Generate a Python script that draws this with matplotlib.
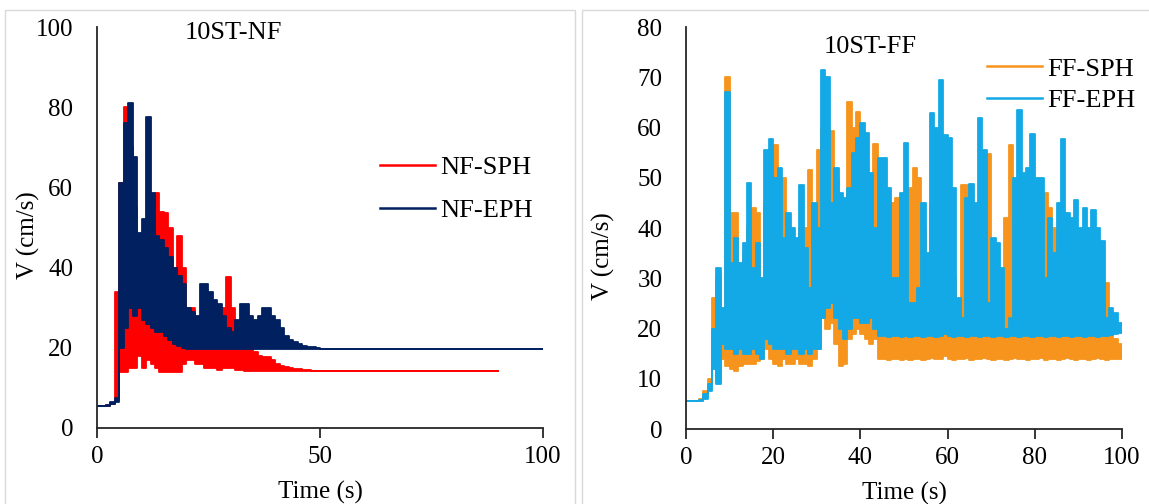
import matplotlib.pyplot as plt
from matplotlib.patches import Rectangle

plt.rcParams["font.family"] = ["Liberation Serif", "DejaVu Serif"]

# 10ST-NF : crêtes (hi) et creux (lo) lus à chaque seconde, t = 0..50 s
nf_sph_hi = [5.5, 5.5, 5.7, 6.3, 34, 61, 80, 70, 55, 40,
             38, 35, 40, 58.6, 53.8, 53.5, 50, 40, 48, 40,
             30, 30, 26, 24, 22, 24, 22, 24, 30, 37.7,
             30, 25, 21, 22, 21, 19, 18, 17.8, 17.8, 17,
             16, 15.5, 15.2, 15, 14.8, 14.6, 14.5, 14.4, 14.3, 14.3, 14.2]
nf_sph_lo = [5.5, 5.5, 5.6, 6, 7, 14, 14, 15, 15, 18,
             15, 17, 16, 15, 14, 14, 14, 14, 14, 16,
             17, 17, 16, 16, 15, 15, 15, 14.5, 15, 15,
             15, 14.5, 14.5, 14.3, 14.3, 14.2, 14.2, 14.2, 14.2, 14.2,
             14.2, 14.2, 14.2, 14.2, 14.2, 14.2, 14.2, 14.2, 14.2, 14.2, 14.2]
nf_eph_hi = [5.5, 5.6, 5.8, 6.5, 7.5, 61, 76, 81, 67.6, 48.6,
             52, 77.6, 58.6, 48, 47, 45, 42.6, 40, 38, 36,
             30, 29, 28, 36, 36, 34, 32, 31, 28, 25,
             24, 27, 31, 31, 28, 27, 28, 30, 30, 28,
             27, 25, 23, 22, 21.5, 21, 20.5, 20.3, 20.1, 20, 19.8]
nf_eph_lo = [5.5, 5.5, 5.6, 6, 6.5, 20, 25, 30, 28, 30,
             27, 26, 25, 24, 24, 23, 22, 21, 20.5, 20,
             19.8, 19.8, 19.8, 19.8, 19.8, 19.8, 19.8, 19.8, 19.8, 19.8,
             19.8, 19.8, 19.8, 19.8, 19.8, 19.8, 19.8, 19.8, 19.8, 19.8,
             19.8, 19.8, 19.8, 19.8, 19.8, 19.7, 19.7, 19.7, 19.7, 19.7, 19.7]
nf_sph_fin = (90, 14.2)
nf_eph_fin = (100, 19.7)

# 10ST-FF : t = 0..100 s
ff_sph_hi = [5.5, 5.5, 5.5, 6, 7.5, 10, 26, 30, 22, 70,
             43, 43, 30, 35, 40, 44, 43, 28, 45, 52,
             56.5, 50, 50, 40, 38, 35, 40, 40, 51.5, 44,
             55.6, 60, 56, 59.4, 50, 44, 45, 65, 60, 63,
             55, 50, 48, 56.8, 48, 47, 44, 45, 46, 43.5,
             47, 48, 52, 50, 40, 30, 45, 40, 45, 40,
             35, 30, 22, 48.5, 48.5, 42, 35, 40, 45, 54.8,
             35, 30, 25, 42, 56.5, 45, 40, 42, 45, 44,
             40, 45, 47, 44, 40, 38, 40, 36, 35, 36,
             34, 35, 32, 30, 28, 26, 29, 22, 18, 17, 16]
ff_sph_lo = [5.5, 5.5, 5.5, 5.6, 6.5, 8, 14, 10, 14, 12.5,
             12, 11.5, 12.5, 13, 13, 13, 13.5, 14, 16, 14,
             13, 12.5, 14, 13, 13, 14, 13, 13, 12.5, 14,
             16, 22, 20, 21, 17, 12.5, 13, 18, 19, 20,
             19, 18, 17, 18, 14, 14, 13.8, 14, 14, 13.8,
             14, 13.8, 14, 14, 13.8, 14, 14.2, 14, 14, 14.5,
             14, 13.8, 14, 14, 14.2, 13.8, 14, 14, 14.2, 14,
             13.8, 14, 14, 13.8, 14, 14.2, 14, 14, 13.8, 14,
             14, 14.2, 13.8, 14, 14, 13.8, 14, 14.2, 14, 13.8,
             14, 14, 13.8, 14, 14.2, 14, 13.8, 14, 14, 14, 14]
ff_eph_hi = [5.5, 5.5, 5.5, 5.8, 7, 9, 20, 32, 24, 67,
             33, 38, 33, 37, 49, 32, 37, 30, 55.5, 57.8,
             50, 52, 38, 43, 40, 38, 48.5, 36, 28, 45,
             40, 71.5, 70, 45, 52, 47, 46, 48, 55, 58,
             60.8, 59, 51, 40, 54, 54, 48, 30, 30, 47,
             57, 25, 25, 28, 45, 35, 62.8, 60, 69.4, 58.5,
             58, 48, 26, 22, 46, 48.7, 45, 61.8, 55.6, 25,
             38, 37, 32, 20, 22, 50, 63.5, 51, 52, 58.8,
             50, 50, 30, 42, 35, 45, 57.8, 43, 42, 45.5,
             40, 44, 40, 43.5, 40, 37.5, 22, 24, 23, 21, 20]
ff_eph_lo = [5.5, 5.5, 5.5, 5.6, 6, 7.5, 12, 9, 17, 16,
             16, 15, 16, 15, 15, 16, 15, 14, 18, 17,
             16, 16, 16, 15, 16, 16, 15, 16, 15, 16,
             16, 22, 24, 25, 22, 20, 18, 20, 22, 22,
             21, 21, 22, 20, 18.5, 18.5, 18.3, 18.5, 18.5, 18.3,
             18.5, 18.3, 18.5, 18.5, 18.3, 18.5, 18.5, 18.3, 18.5, 19,
             18.5, 18.3, 18.5, 18.5, 18.3, 18.5, 18.5, 18.3, 18.5, 18.5,
             18.3, 18.5, 18.5, 18.3, 18.5, 18.5, 18.3, 18.5, 18.5, 18.3,
             18.5, 18.5, 18.3, 18.5, 18.5, 18.3, 18.5, 18.5, 18.3, 18.5,
             18.5, 18.3, 18.5, 18.5, 18.3, 18.5, 18.5, 18.7, 19, 19.2, 19.5]


def trace_bande(ax, hi, lo, color, label, z, fin=None):
    """Oscillation rapide : bande pleine entre creux et crêtes, seconde par seconde"""
    t = list(range(len(hi)))
    hi = list(hi)
    lo = list(lo)
    if fin is not None:
        t.append(fin[0])
        hi.append(fin[1])
        lo.append(fin[1])
    ax.fill_between(t, lo, hi, step="post", color=color, linewidth=0, zorder=z)
    ax.step(t, hi, where="post", color=color, linewidth=1.3, label=label, zorder=z)
    ax.step(t, lo, where="post", color=color, linewidth=1.3, zorder=z)


def style_axes(ax, ymax, xticks):
    ax.set_xlim(0, 100)
    ax.set_ylim(0, ymax)
    ax.set_xticks(xticks)
    for side in ("top", "right"):
        ax.spines[side].set_visible(False)
    for side in ("left", "bottom"):
        ax.spines[side].set_color("#262626")
        ax.spines[side].set_linewidth(1.3)
        ax.spines[side].set_zorder(5)
    ax.tick_params(axis="x", direction="out", length=7, width=1.3, color="#262626", pad=6, labelsize=18)
    ax.tick_params(axis="y", length=0, pad=17, labelsize=18)
    ax.set_xlabel("Time (s)", fontsize=18, labelpad=9)
    ax.set_ylabel("V (cm/s)", fontsize=18)


fig = plt.figure(figsize=(11.49, 5.04), dpi=100)

# Cadres gris des deux graphiques
fig.add_artist(Rectangle((5 / 1149, -0.05), 570 / 1149, 1.03, transform=fig.transFigure,
                         fill=False, edgecolor="#d9d9d9", linewidth=1))
fig.add_artist(Rectangle((582 / 1149, -0.05), 0.6, 1.03, transform=fig.transFigure,
                         fill=False, edgecolor="#d9d9d9", linewidth=1))

ax1 = fig.add_axes([0.0844, 0.1508, 0.3882, 0.7956])
ax2 = fig.add_axes([0.5970, 0.1488, 0.3795, 0.7976])

# Graphique 1 : 10ST-NF
trace_bande(ax1, nf_sph_hi, nf_sph_lo, "#FF0000", "NF-SPH", 2, nf_sph_fin)
trace_bande(ax1, nf_eph_hi, nf_eph_lo, "#002060", "NF-EPH", 3, nf_eph_fin)
style_axes(ax1, 100, [0, 50, 100])
ax1.yaxis.set_label_coords(-0.128, 0.48)
ax1.text(0.305, 0.985, "10ST-NF", transform=ax1.transAxes, ha="center", va="center", fontsize=19)
leg1 = ax1.legend(loc="upper left", bbox_to_anchor=(0.6345, 0.68), frameon=False, fontsize=19,
                  handlelength=2.1, handletextpad=0.2, labelspacing=0.75, borderpad=0, borderaxespad=0)

# Graphique 2 : 10ST-FF
trace_bande(ax2, ff_sph_hi, ff_sph_lo, "#F7941D", "FF-SPH", 2)
trace_bande(ax2, ff_eph_hi, ff_eph_lo, "#12A9E6", "FF-EPH", 3)
style_axes(ax2, 80, [0, 20, 40, 60, 80, 100])
ax2.set_yticks(range(0, 81, 10))
ax2.yaxis.set_label_coords(-0.163, 0.43)
ax2.text(0.422, 0.95, "10ST-FF", transform=ax2.transAxes, ha="center", va="center", fontsize=19)
leg2 = ax2.legend(loc="upper left", bbox_to_anchor=(0.69, 0.925), frameon=False, fontsize=19,
                  handlelength=2.1, handletextpad=0.2, labelspacing=0.3, borderpad=0, borderaxespad=0)

for leg in (leg1, leg2):
    leg.set_zorder(6)
    for line in leg.get_lines():
        line.set_linewidth(1.8)

fig.savefig("out.png", dpi=100)
